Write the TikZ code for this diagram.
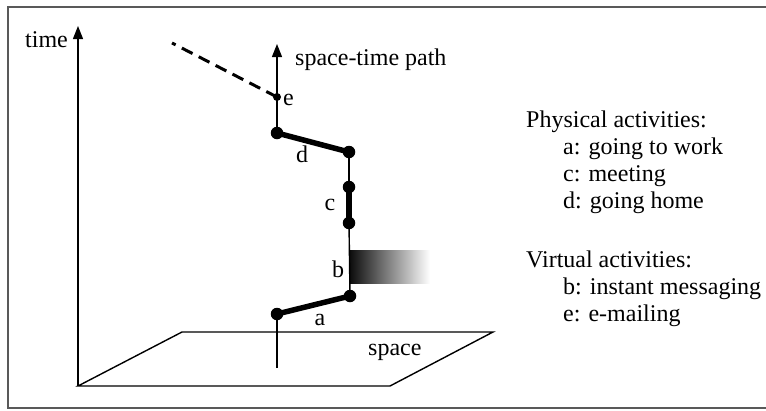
\documentclass[tikz,border=0pt]{standalone}
\usepackage{fontspec}
\setmainfont{Liberation Serif}
\usetikzlibrary{arrows.meta}
\begin{document}
\begin{tikzpicture}[x=1pt,y=-1pt,
  lbl/.style={font=\fontsize{24}{27}\selectfont, inner sep=0pt},
  thinline/.style={line width=1.4pt},
  thickseg/.style={line width=5.5pt},
  bigdot/.style={circle, fill=black, inner sep=0pt, minimum size=12.5pt},
  smalldot/.style={circle, fill=black, inner sep=0pt, minimum size=8pt},
  framestyle/.style={line width=1.5pt, draw=black!65}]
\useasboundingbox (0,0) rectangle (766,410);
% frame
\draw[framestyle] (766,7) -- (8,7) -- (8,408) -- (766,408);
% gradient (virtual activity b)
\shade[left color=black!95, right color=white] (350,250) rectangle (430,283);
% space plane
\coordinate (pl1) at (78,386);
\coordinate (pl2) at (182,332);
\coordinate (pl3) at (493,332);
\coordinate (pl4) at (390,386);
\draw[thinline] (pl1) -- (pl2) -- (pl3) -- (pl4) -- cycle;
% time axis
\coordinate (t0) at (78,386);
\coordinate (t1) at (78,26);
\draw[thinline, -{Triangle[length=13pt,width=10pt]}] (t0) -- (t1);
\node[lbl, anchor=base west] (time) at (25,47) {time};
% path points
\coordinate (p0) at (277,368);
\node[bigdot] (a1) at (277,314) {};
\node[bigdot] (a2) at (350,296) {};
\node[bigdot] (c1) at (349,223) {};
\node[bigdot] (c2) at (349,187) {};
\node[bigdot] (d1) at (349,152) {};
\node[bigdot] (d2) at (277,133) {};
\node[smalldot] (e) at (277,97) {};
\coordinate (tip) at (277,44);
\coordinate (dashend) at (172,43);
% thin verticals
\draw[thinline] (p0) -- (a1.center);
\draw[thinline] (a2.center) -- (c1.center);
\draw[thinline] (c2.center) -- (d1.center);
\draw[thinline, -{Triangle[length=13pt,width=10pt]}] (d2.center) -- (tip);
% thick activity segments
\draw[thickseg] (a1.center) -- (a2.center);
\draw[thickseg] (c1.center) -- (c2.center);
\draw[thickseg] (d1.center) -- (d2.center);
\draw[line width=3pt, dash pattern=on 12pt off 7pt] (e.center) -- (dashend);
% labels
\node[lbl, anchor=base west] (stp) at (295,65) {space-time path};
\node[lbl, anchor=base west] (le) at (283,105) {e};
\node[lbl, anchor=base] (ld) at (302,162) {d};
\node[lbl, anchor=base] (lc) at (330,210) {c};
\node[lbl, anchor=base] (lb) at (338,277) {b};
\node[lbl, anchor=base] (la) at (320,325) {a};
\node[lbl, anchor=base west] (lsp) at (368,355) {space};
% legend
\node[lbl, anchor=base west] (g1) at (526,127) {Physical activities:};
\node[lbl, anchor=base west] (g2) at (563,154) {a: going to work};
\node[lbl, anchor=base west] (g3) at (563,181) {c: meeting};
\node[lbl, anchor=base west] (g4) at (563,208) {d: going home};
\node[lbl, anchor=base west] (g5) at (526,267) {Virtual activities:};
\node[lbl, anchor=base west] (g6) at (563,294) {b: instant messaging};
\node[lbl, anchor=base west] (g7) at (563,321) {e: e-mailing};
\end{tikzpicture}
\end{document}
